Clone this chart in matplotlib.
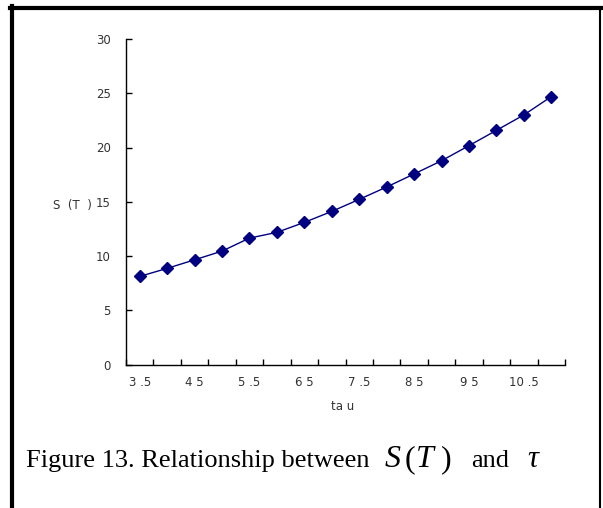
import matplotlib
matplotlib.use("Agg")
import matplotlib.pyplot as plt
from matplotlib.lines import Line2D

tau = [3.5, 4.0, 4.5, 5.0, 5.5, 6.0, 6.5, 7.0, 7.5, 8.0, 8.5, 9.0, 9.5, 10.0, 10.5, 11.0]
s_t = [8.12, 8.86, 9.65, 10.45, 11.65, 12.18, 13.10, 14.11, 15.22, 16.36, 17.56, 18.78, 20.17, 21.58, 23.00, 24.69]
y_ticks = [0, 5, 10, 15, 20, 25, 30]
x_labels = ["3 .5", "4 5", "5 .5", "6 5", "7 .5", "8 5", "9 5", "10 .5"]

W, H = 603, 508
fig = plt.figure(figsize=(W / 100, H / 100), dpi=100)
fig.patch.set_facecolor("white")

ax = fig.add_axes([126 / W, 1 - 364.5 / H, (565 - 126) / W, (364.5 - 39) / H])
idx = list(range(len(tau)))
ax.plot(idx, s_t, color="#000080", lw=1.0, marker="D", markersize=6.5,
        markerfacecolor="#000080", markeredgecolor="#000080")

ax.set_xlim(-0.5, len(tau) - 0.5)
ax.set_ylim(0, 30)
for sp in ["top", "right"]:
    ax.spines[sp].set_visible(False)
for sp in ["left", "bottom"]:
    ax.spines[sp].set_linewidth(1.0)
    ax.spines[sp].set_color("black")

ax.set_yticks(y_ticks)
ax.set_yticklabels([str(v) for v in y_ticks])
ax.tick_params(axis="y", direction="in", length=4, width=1, pad=11,
               labelsize=8.5, labelcolor="#333333")

ax.set_xticks([i - 0.5 for i in range(len(tau) + 1)])
ax.set_xticklabels([])
ax.tick_params(axis="x", which="major", direction="in", length=4, width=1)
ax.set_xticks(idx[::2], minor=True)
ax.set_xticklabels(x_labels, minor=True)
ax.tick_params(axis="x", which="minor", length=0, pad=8.5, labelsize=8.5,
               labelcolor="#333333")

fig.text(72 / W, 1 - 206 / H, "S  (T  )", fontsize=8.5, color="#333333",
         ha="center", va="center")
fig.text(343 / W, 1 - 407 / H, "ta u", fontsize=8.5, color="#333333",
         ha="center", va="center")

# caption
base = 1 - 467 / H
serif = "Liberation Serif"
fig.text(26 / W, base, "Figure 13. Relationship between", fontsize=19,
         family=serif, va="baseline", ha="left")
for x, s, st in [(385, "S", "italic"), (405, "(", "normal"), (416, "T", "italic"),
                 (441, ")", "normal")]:
    fig.text(x / W, base, s, fontsize=23, family=serif, style=st,
             va="baseline", ha="left")
fig.text(471 / W, base, "and", fontsize=19, family=serif,
         va="baseline", ha="left")
fig.text(527 / W, base, "τ", fontsize=22, family=serif,
         style="italic", va="baseline", ha="left")

# frame
def px(x, y):
    return x / W, 1 - y / H

for (x0, y0, x1, y1, lw) in [(12, 6, 12, 508, 3.0), (10, 8, 601, 8, 3.0),
                              (600, 8, 600, 508, 1.5)]:
    (a, b), (c, d) = px(x0, y0), px(x1, y1)
    fig.add_artist(Line2D([a, c], [b, d], transform=fig.transFigure,
                          color="black", lw=lw))

fig.savefig("out.png", dpi=100)
